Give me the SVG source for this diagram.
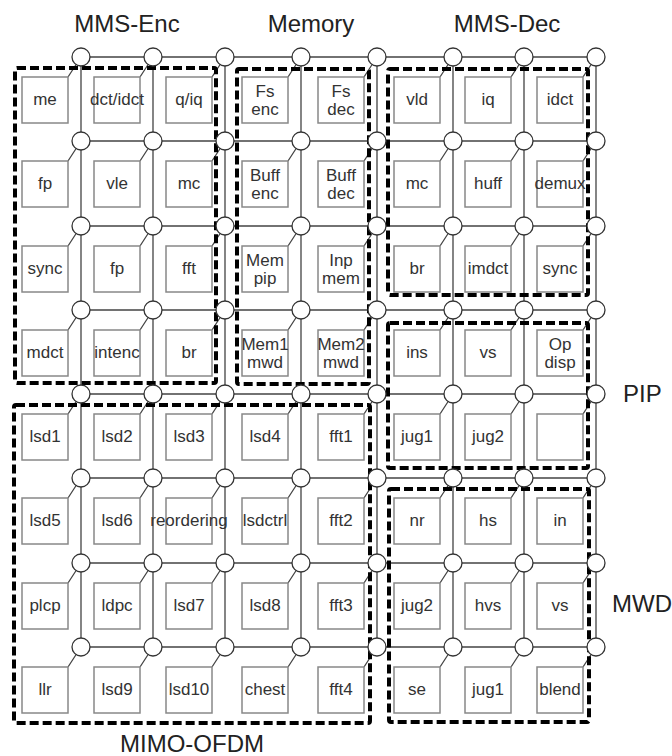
<svg xmlns="http://www.w3.org/2000/svg" width="672" height="756" viewBox="0 0 672 756">
<style>
.bg{fill:#fff}
.wire{stroke:#444;stroke-width:1.3;fill:none}
.core rect{fill:#fff;stroke:#888;stroke-width:1.5}
.core text{font-family:"Liberation Sans",Arial,sans-serif;font-size:17px;fill:#333;text-anchor:middle}
.router circle{fill:#fff;stroke:#333;stroke-width:1.3}
.cluster{fill:none;stroke:#000;stroke-width:4;stroke-dasharray:9 4}
.label{font-family:"Liberation Sans",Arial,sans-serif;font-size:24px;fill:#222}
</style>
<rect class="bg" width="672" height="756"/>
<g id="connectors" class="wire">
<path d="M81 57H596M81 141H596M81 226H596M81 310H596M81 394H596M81 478H596M81 563H596M81 647H596"/>
<path d="M81 57V647M153 57V647M225 57V647M301 57V647M377 57V647M453 57V647M524 57V647M596 57V647"/>
<path d="M68 77L81 57M140 77L153 57M212 77L225 57M288 77L301 57M364 77L377 57M440 77L453 57M511 77L524 57M583 77L596 57
M68 161L81 141M140 161L153 141M212 161L225 141M288 161L301 141M364 161L377 141M440 161L453 141M511 161L524 141M583 161L596 141
M68 246L81 226M140 246L153 226M212 246L225 226M288 246L301 226M364 246L377 226M440 246L453 226M511 246L524 226M583 246L596 226
M68 330L81 310M140 330L153 310M212 330L225 310M288 330L301 310M364 330L377 310M440 330L453 310M511 330L524 310M583 330L596 310
M68 414L81 394M140 414L153 394M212 414L225 394M288 414L301 394M364 414L377 394M440 414L453 394M511 414L524 394M583 414L596 394
M68 498L81 478M140 498L153 478M212 498L225 478M288 498L301 478M364 498L377 478M440 498L453 478M511 498L524 478M583 498L596 478
M68 583L81 563M140 583L153 563M212 583L225 563M288 583L301 563M364 583L377 563M440 583L453 563M511 583L524 563M583 583L596 563
M68 667L81 647M140 667L153 647M212 667L225 647M288 667L301 647M364 667L377 647M440 667L453 647M511 667L524 647M583 667L596 647"/>
</g>
<g id="cores">
<g id="c00" class="core" transform="translate(22,77)"><rect width="46" height="46"/><text x="23" y="28">me</text></g>
<g id="c01" class="core" transform="translate(94,77)"><rect width="46" height="46"/><text x="23" y="28">dct/idct</text></g>
<g id="c02" class="core" transform="translate(166,77)"><rect width="46" height="46"/><text x="23" y="28">q/iq</text></g>
<g id="c03" class="core" transform="translate(242,77)"><rect width="46" height="46"/><text x="23" y="20">Fs</text><text x="23" y="38">enc</text></g>
<g id="c04" class="core" transform="translate(318,77)"><rect width="46" height="46"/><text x="23" y="20">Fs</text><text x="23" y="38">dec</text></g>
<g id="c05" class="core" transform="translate(394,77)"><rect width="46" height="46"/><text x="23" y="28">vld</text></g>
<g id="c06" class="core" transform="translate(465,77)"><rect width="46" height="46"/><text x="23" y="28">iq</text></g>
<g id="c07" class="core" transform="translate(537,77)"><rect width="46" height="46"/><text x="23" y="28">idct</text></g>

<g id="c10" class="core" transform="translate(22,161)"><rect width="46" height="46"/><text x="23" y="28">fp</text></g>
<g id="c11" class="core" transform="translate(94,161)"><rect width="46" height="46"/><text x="23" y="28">vle</text></g>
<g id="c12" class="core" transform="translate(166,161)"><rect width="46" height="46"/><text x="23" y="28">mc</text></g>
<g id="c13" class="core" transform="translate(242,161)"><rect width="46" height="46"/><text x="23" y="20">Buff</text><text x="23" y="38">enc</text></g>
<g id="c14" class="core" transform="translate(318,161)"><rect width="46" height="46"/><text x="23" y="20">Buff</text><text x="23" y="38">dec</text></g>
<g id="c15" class="core" transform="translate(394,161)"><rect width="46" height="46"/><text x="23" y="28">mc</text></g>
<g id="c16" class="core" transform="translate(465,161)"><rect width="46" height="46"/><text x="23" y="28">huff</text></g>
<g id="c17" class="core" transform="translate(537,161)"><rect width="46" height="46"/><text x="23" y="28">demux</text></g>

<g id="c20" class="core" transform="translate(22,246)"><rect width="46" height="46"/><text x="23" y="28">sync</text></g>
<g id="c21" class="core" transform="translate(94,246)"><rect width="46" height="46"/><text x="23" y="28">fp</text></g>
<g id="c22" class="core" transform="translate(166,246)"><rect width="46" height="46"/><text x="23" y="28">fft</text></g>
<g id="c23" class="core" transform="translate(242,246)"><rect width="46" height="46"/><text x="23" y="20">Mem</text><text x="23" y="38">pip</text></g>
<g id="c24" class="core" transform="translate(318,246)"><rect width="46" height="46"/><text x="23" y="20">Inp</text><text x="23" y="38">mem</text></g>
<g id="c25" class="core" transform="translate(394,246)"><rect width="46" height="46"/><text x="23" y="28">br</text></g>
<g id="c26" class="core" transform="translate(465,246)"><rect width="46" height="46"/><text x="23" y="28">imdct</text></g>
<g id="c27" class="core" transform="translate(537,246)"><rect width="46" height="46"/><text x="23" y="28">sync</text></g>

<g id="c30" class="core" transform="translate(22,330)"><rect width="46" height="46"/><text x="23" y="28">mdct</text></g>
<g id="c31" class="core" transform="translate(94,330)"><rect width="46" height="46"/><text x="23" y="28">intenc</text></g>
<g id="c32" class="core" transform="translate(166,330)"><rect width="46" height="46"/><text x="23" y="28">br</text></g>
<g id="c33" class="core" transform="translate(242,330)"><rect width="46" height="46"/><text x="23" y="20">Mem1</text><text x="23" y="38">mwd</text></g>
<g id="c34" class="core" transform="translate(318,330)"><rect width="46" height="46"/><text x="23" y="20">Mem2</text><text x="23" y="38">mwd</text></g>
<g id="c35" class="core" transform="translate(394,330)"><rect width="46" height="46"/><text x="23" y="28">ins</text></g>
<g id="c36" class="core" transform="translate(465,330)"><rect width="46" height="46"/><text x="23" y="28">vs</text></g>
<g id="c37" class="core" transform="translate(537,330)"><rect width="46" height="46"/><text x="23" y="20">Op</text><text x="23" y="38">disp</text></g>

<g id="c40" class="core" transform="translate(22,414)"><rect width="46" height="46"/><text x="23" y="28">lsd1</text></g>
<g id="c41" class="core" transform="translate(94,414)"><rect width="46" height="46"/><text x="23" y="28">lsd2</text></g>
<g id="c42" class="core" transform="translate(166,414)"><rect width="46" height="46"/><text x="23" y="28">lsd3</text></g>
<g id="c43" class="core" transform="translate(242,414)"><rect width="46" height="46"/><text x="23" y="28">lsd4</text></g>
<g id="c44" class="core" transform="translate(318,414)"><rect width="46" height="46"/><text x="23" y="28">fft1</text></g>
<g id="c45" class="core" transform="translate(394,414)"><rect width="46" height="46"/><text x="23" y="28">jug1</text></g>
<g id="c46" class="core" transform="translate(465,414)"><rect width="46" height="46"/><text x="23" y="28">jug2</text></g>
<g id="c47" class="core" transform="translate(537,414)"><rect width="46" height="46"/></g>

<g id="c50" class="core" transform="translate(22,498)"><rect width="46" height="46"/><text x="23" y="28">lsd5</text></g>
<g id="c51" class="core" transform="translate(94,498)"><rect width="46" height="46"/><text x="23" y="28">lsd6</text></g>
<g id="c52" class="core" transform="translate(166,498)"><rect width="46" height="46"/><text x="23" y="28">reordering</text></g>
<g id="c53" class="core" transform="translate(242,498)"><rect width="46" height="46"/><text x="23" y="28">lsdctrl</text></g>
<g id="c54" class="core" transform="translate(318,498)"><rect width="46" height="46"/><text x="23" y="28">fft2</text></g>
<g id="c55" class="core" transform="translate(394,498)"><rect width="46" height="46"/><text x="23" y="28">nr</text></g>
<g id="c56" class="core" transform="translate(465,498)"><rect width="46" height="46"/><text x="23" y="28">hs</text></g>
<g id="c57" class="core" transform="translate(537,498)"><rect width="46" height="46"/><text x="23" y="28">in</text></g>

<g id="c60" class="core" transform="translate(22,583)"><rect width="46" height="46"/><text x="23" y="28">plcp</text></g>
<g id="c61" class="core" transform="translate(94,583)"><rect width="46" height="46"/><text x="23" y="28">ldpc</text></g>
<g id="c62" class="core" transform="translate(166,583)"><rect width="46" height="46"/><text x="23" y="28">lsd7</text></g>
<g id="c63" class="core" transform="translate(242,583)"><rect width="46" height="46"/><text x="23" y="28">lsd8</text></g>
<g id="c64" class="core" transform="translate(318,583)"><rect width="46" height="46"/><text x="23" y="28">fft3</text></g>
<g id="c65" class="core" transform="translate(394,583)"><rect width="46" height="46"/><text x="23" y="28">jug2</text></g>
<g id="c66" class="core" transform="translate(465,583)"><rect width="46" height="46"/><text x="23" y="28">hvs</text></g>
<g id="c67" class="core" transform="translate(537,583)"><rect width="46" height="46"/><text x="23" y="28">vs</text></g>

<g id="c70" class="core" transform="translate(22,667)"><rect width="46" height="46"/><text x="23" y="28">llr</text></g>
<g id="c71" class="core" transform="translate(94,667)"><rect width="46" height="46"/><text x="23" y="28">lsd9</text></g>
<g id="c72" class="core" transform="translate(166,667)"><rect width="46" height="46"/><text x="23" y="28">lsd10</text></g>
<g id="c73" class="core" transform="translate(242,667)"><rect width="46" height="46"/><text x="23" y="28">chest</text></g>
<g id="c74" class="core" transform="translate(318,667)"><rect width="46" height="46"/><text x="23" y="28">fft4</text></g>
<g id="c75" class="core" transform="translate(394,667)"><rect width="46" height="46"/><text x="23" y="28">se</text></g>
<g id="c76" class="core" transform="translate(465,667)"><rect width="46" height="46"/><text x="23" y="28">jug1</text></g>
<g id="c77" class="core" transform="translate(537,667)"><rect width="46" height="46"/><text x="23" y="28">blend</text></g>
</g>
<g id="clusters">
<rect id="mms-enc" class="cluster" x="15" y="68" width="201" height="315" rx="2"/>
<rect id="memory" class="cluster" x="237" y="69" width="132" height="315" rx="2"/>
<rect id="mms-dec" class="cluster" x="388" y="69" width="200" height="226" rx="2"/>
<rect id="pip" class="cluster" x="388" y="323" width="200" height="145" rx="2"/>
<rect id="mwd" class="cluster" x="389" y="489" width="200" height="233" rx="2"/>
<rect id="mimo-ofdm" class="cluster" x="14" y="405" width="356" height="318" rx="2"/>
</g>
<g id="routers">
<g id="r00" class="router"><circle cx="81" cy="57" r="9"/></g>
<g id="r01" class="router"><circle cx="153" cy="57" r="9"/></g>
<g id="r02" class="router"><circle cx="225" cy="57" r="9"/></g>
<g id="r03" class="router"><circle cx="301" cy="57" r="9"/></g>
<g id="r04" class="router"><circle cx="377" cy="57" r="9"/></g>
<g id="r05" class="router"><circle cx="453" cy="57" r="9"/></g>
<g id="r06" class="router"><circle cx="524" cy="57" r="9"/></g>
<g id="r07" class="router"><circle cx="596" cy="57" r="9"/></g>
<g id="r10" class="router"><circle cx="81" cy="141" r="9"/></g>
<g id="r11" class="router"><circle cx="153" cy="141" r="9"/></g>
<g id="r12" class="router"><circle cx="225" cy="141" r="9"/></g>
<g id="r13" class="router"><circle cx="301" cy="141" r="9"/></g>
<g id="r14" class="router"><circle cx="377" cy="141" r="9"/></g>
<g id="r15" class="router"><circle cx="453" cy="141" r="9"/></g>
<g id="r16" class="router"><circle cx="524" cy="141" r="9"/></g>
<g id="r17" class="router"><circle cx="596" cy="141" r="9"/></g>
<g id="r20" class="router"><circle cx="81" cy="226" r="9"/></g>
<g id="r21" class="router"><circle cx="153" cy="226" r="9"/></g>
<g id="r22" class="router"><circle cx="225" cy="226" r="9"/></g>
<g id="r23" class="router"><circle cx="301" cy="226" r="9"/></g>
<g id="r24" class="router"><circle cx="377" cy="226" r="9"/></g>
<g id="r25" class="router"><circle cx="453" cy="226" r="9"/></g>
<g id="r26" class="router"><circle cx="524" cy="226" r="9"/></g>
<g id="r27" class="router"><circle cx="596" cy="226" r="9"/></g>
<g id="r30" class="router"><circle cx="81" cy="310" r="9"/></g>
<g id="r31" class="router"><circle cx="153" cy="310" r="9"/></g>
<g id="r32" class="router"><circle cx="225" cy="310" r="9"/></g>
<g id="r33" class="router"><circle cx="301" cy="310" r="9"/></g>
<g id="r34" class="router"><circle cx="377" cy="310" r="9"/></g>
<g id="r35" class="router"><circle cx="453" cy="310" r="9"/></g>
<g id="r36" class="router"><circle cx="524" cy="310" r="9"/></g>
<g id="r37" class="router"><circle cx="596" cy="310" r="9"/></g>
<g id="r40" class="router"><circle cx="81" cy="394" r="9"/></g>
<g id="r41" class="router"><circle cx="153" cy="394" r="9"/></g>
<g id="r42" class="router"><circle cx="225" cy="394" r="9"/></g>
<g id="r43" class="router"><circle cx="301" cy="394" r="9"/></g>
<g id="r44" class="router"><circle cx="377" cy="394" r="9"/></g>
<g id="r45" class="router"><circle cx="453" cy="394" r="9"/></g>
<g id="r46" class="router"><circle cx="524" cy="394" r="9"/></g>
<g id="r47" class="router"><circle cx="596" cy="394" r="9"/></g>
<g id="r50" class="router"><circle cx="81" cy="478" r="9"/></g>
<g id="r51" class="router"><circle cx="153" cy="478" r="9"/></g>
<g id="r52" class="router"><circle cx="225" cy="478" r="9"/></g>
<g id="r53" class="router"><circle cx="301" cy="478" r="9"/></g>
<g id="r54" class="router"><circle cx="377" cy="478" r="9"/></g>
<g id="r55" class="router"><circle cx="453" cy="478" r="9"/></g>
<g id="r56" class="router"><circle cx="524" cy="478" r="9"/></g>
<g id="r57" class="router"><circle cx="596" cy="478" r="9"/></g>
<g id="r60" class="router"><circle cx="81" cy="563" r="9"/></g>
<g id="r61" class="router"><circle cx="153" cy="563" r="9"/></g>
<g id="r62" class="router"><circle cx="225" cy="563" r="9"/></g>
<g id="r63" class="router"><circle cx="301" cy="563" r="9"/></g>
<g id="r64" class="router"><circle cx="377" cy="563" r="9"/></g>
<g id="r65" class="router"><circle cx="453" cy="563" r="9"/></g>
<g id="r66" class="router"><circle cx="524" cy="563" r="9"/></g>
<g id="r67" class="router"><circle cx="596" cy="563" r="9"/></g>
<g id="r70" class="router"><circle cx="81" cy="647" r="9"/></g>
<g id="r71" class="router"><circle cx="153" cy="647" r="9"/></g>
<g id="r72" class="router"><circle cx="225" cy="647" r="9"/></g>
<g id="r73" class="router"><circle cx="301" cy="647" r="9"/></g>
<g id="r74" class="router"><circle cx="377" cy="647" r="9"/></g>
<g id="r75" class="router"><circle cx="453" cy="647" r="9"/></g>
<g id="r76" class="router"><circle cx="524" cy="647" r="9"/></g>
<g id="r77" class="router"><circle cx="596" cy="647" r="9"/></g>
</g>
<g id="labels">
<text class="label" x="127" y="32" text-anchor="middle">MMS-Enc</text>
<text class="label" x="311" y="32" text-anchor="middle">Memory</text>
<text class="label" x="507" y="32" text-anchor="middle">MMS-Dec</text>
<text class="label" x="623" y="402">PIP</text>
<text class="label" x="612" y="612">MWD</text>
<text class="label" x="192" y="752" text-anchor="middle">MIMO-OFDM</text>
</g>
</svg>
